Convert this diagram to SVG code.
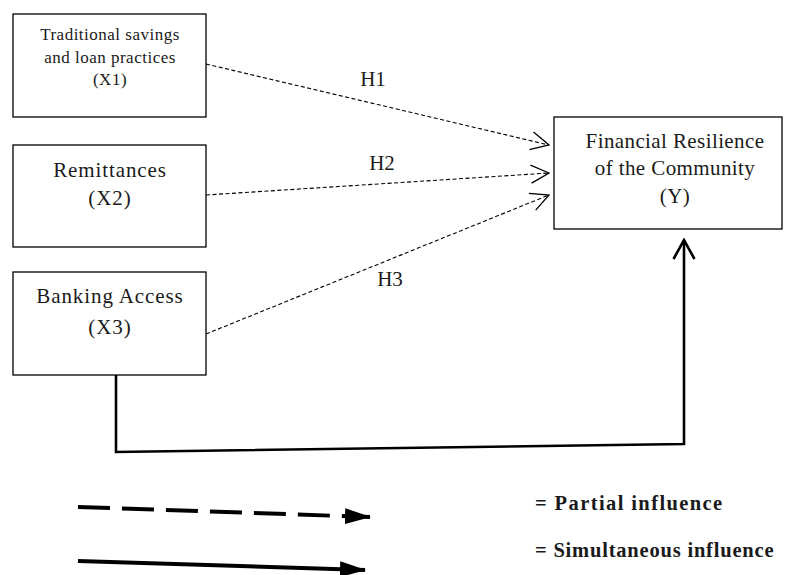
<svg xmlns="http://www.w3.org/2000/svg" width="785" height="575" viewBox="0 0 785 575">
<style>
.box{fill:#fff;stroke:#000;stroke-width:1.3}
.t{font-family:'Liberation Serif','DejaVu Serif',serif;fill:#1a1a1a;text-anchor:middle}
.dash{fill:none;stroke:#000;stroke-width:1.1;stroke-dasharray:4,2.5}
.solid{fill:none;stroke:#000;stroke-width:2.6}
.lg{font-family:'Liberation Serif','DejaVu Serif',serif;font-weight:bold;fill:#1a1a1a;font-size:20.5px;letter-spacing:1.4px}
.lg2{letter-spacing:0.8px}
</style>
<defs>
<marker id="open" viewBox="0 0 20 20" refX="19" refY="10" markerWidth="20" markerHeight="20" markerUnits="userSpaceOnUse" orient="auto">
<path d="M1,1 L19,10 L1,19" fill="none" stroke="#000" stroke-width="1.3"/>
</marker>
<marker id="openBig" viewBox="0 0 24 24" refX="22" refY="12" markerWidth="24" markerHeight="24" markerUnits="userSpaceOnUse" orient="auto">
<path d="M3,1.5 L22,12 L3,22.5" fill="none" stroke="#000" stroke-width="2.6"/>
</marker>
<marker id="fill" viewBox="0 0 26 16" refX="25" refY="8" markerWidth="26" markerHeight="16" markerUnits="userSpaceOnUse" orient="auto">
<path d="M0,0 L26,8 L0,16 Z" fill="#000"/>
</marker>
</defs>

<g id="x1">
<rect class="box" x="13" y="14" width="193" height="103"/>
<text class="t" font-size="17" letter-spacing="0.5" x="110" y="40">Traditional savings</text>
<text class="t" font-size="17" letter-spacing="0.5" x="110" y="63">and loan practices</text>
<text class="t" font-size="17" letter-spacing="0.5" x="110" y="85">(X1)</text>
</g>
<g id="x2">
<rect class="box" x="13" y="145" width="193" height="102"/>
<text class="t" font-size="21" letter-spacing="0.9" x="110" y="177">Remittances</text>
<text class="t" font-size="21" letter-spacing="0.9" x="110" y="205">(X2)</text>
</g>
<g id="x3">
<rect class="box" x="13" y="272" width="193" height="103"/>
<text class="t" font-size="21" letter-spacing="0.9" x="110" y="303">Banking Access</text>
<text class="t" font-size="21" letter-spacing="0.9" x="110" y="334">(X3)</text>
</g>
<g id="y">
<rect class="box" x="554" y="117" width="228" height="112"/>
<text class="t" font-size="21" letter-spacing="0.4" x="675" y="148">Financial Resilience</text>
<text class="t" font-size="21" letter-spacing="0.4" x="675" y="175">of the Community</text>
<text class="t" font-size="21" letter-spacing="0.4" x="675" y="203">(Y)</text>
</g>

<g id="connectors">
<line class="dash" x1="206" y1="64" x2="549" y2="145" marker-end="url(#open)"/>
<line class="dash" x1="206" y1="195" x2="549" y2="173" marker-end="url(#open)"/>
<line class="dash" x1="206" y1="334" x2="549" y2="195" marker-end="url(#open)"/>
<polyline class="solid" points="116,375 116,452 684,444 684,240" marker-end="url(#openBig)"/>
<text class="t" font-size="21" x="373" y="86">H1</text>
<text class="t" font-size="21" x="382" y="170">H2</text>
<text class="t" font-size="21" x="390" y="286">H3</text>
</g>

<g id="legend">
<line x1="78" y1="507" x2="370" y2="517" stroke="#000" stroke-width="4" stroke-dasharray="32,12" marker-end="url(#fill)"/>
<line x1="78" y1="561" x2="365" y2="570" stroke="#000" stroke-width="4" marker-end="url(#fill)"/>
<text class="lg" x="535" y="510">= Partial influence</text>
<text class="lg lg2" x="535" y="557">= Simultaneous influence</text>
</g>
</svg>
